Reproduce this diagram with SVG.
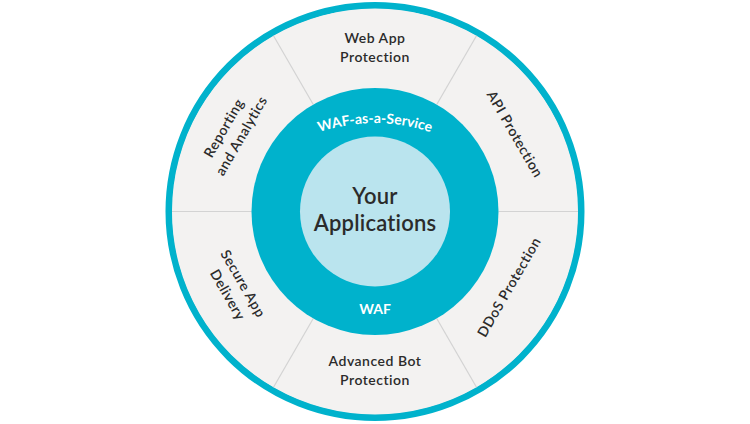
<svg xmlns="http://www.w3.org/2000/svg" width="750" height="424" viewBox="0 0 750 424">
  <style>
    .seg { fill: #f3f2f1; }
    .lbl { font-family: Lato, "Open Sans", "Liberation Sans", sans-serif; font-size: 14px; font-weight: 600; fill: #2b2b2b; text-anchor: middle; letter-spacing: 0.5px; }
    .wht { font-family: Lato, "Open Sans", "Liberation Sans", sans-serif; font-size: 14px; font-weight: 700; fill: #ffffff; text-anchor: middle; }
    .core { font-family: Lato, "Open Sans", "Liberation Sans", sans-serif; font-size: 22px; font-weight: 600; fill: #2b2b2b; text-anchor: middle; letter-spacing: 0.2px; }
    .sep { stroke: #d3d3d3; stroke-width: 1.2; fill: none; }
  </style>
  <defs>
    <path id="arcTop" d="M 296,142 A 175 175 0 0 1 454,142"/>
  </defs>
  <rect width="750" height="424" fill="#ffffff"/>

  <g id="outer-ring">
    <circle cx="375" cy="211.5" r="206" fill="#f3f2f1" stroke="#00b2cc" stroke-width="7"/>
  </g>

  <g id="web-app-protection">
    <path class="seg" d="M 476.5,35.7 A 203 203 0 0 0 273.5,35.7 L 313.25,104.55 A 123.5 123.5 0 0 1 436.75,104.55 Z"/>
    <text class="lbl" x="375" y="43">Web App</text>
    <text class="lbl" x="375" y="62">Protection</text>
  </g>

  <g id="api-protection">
    <path class="seg" d="M 578,211.5 A 203 203 0 0 0 476.5,35.7 L 436.75,104.55 A 123.5 123.5 0 0 1 498.5,211.5 Z"/>
    <text class="lbl" transform="translate(515,134) rotate(60)" x="0" y="5">API Protection</text>
  </g>

  <g id="ddos-protection">
    <path class="seg" d="M 476.5,387.3 A 203 203 0 0 0 578,211.5 L 498.5,211.5 A 123.5 123.5 0 0 1 436.75,318.45 Z"/>
    <text class="lbl" transform="translate(509,287) rotate(-60)" x="0" y="5">DDoS Protection</text>
  </g>

  <g id="advanced-bot-protection">
    <path class="seg" d="M 273.5,387.3 A 203 203 0 0 0 476.5,387.3 L 436.75,318.45 A 123.5 123.5 0 0 1 313.25,318.45 Z"/>
    <text class="lbl" x="375" y="366">Advanced Bot</text>
    <text class="lbl" x="375" y="385">Protection</text>
  </g>

  <g id="secure-app-delivery">
    <path class="seg" d="M 172,211.5 A 203 203 0 0 0 273.5,387.3 L 313.25,318.45 A 123.5 123.5 0 0 1 251.5,211.5 Z"/>
    <text class="lbl" transform="translate(236,290) rotate(60)">
      <tspan x="0" y="-4.5">Secure App</tspan>
      <tspan x="0" y="14.5">Delivery</tspan>
    </text>
  </g>

  <g id="reporting-and-analytics">
    <path class="seg" d="M 273.5,35.7 A 203 203 0 0 0 172,211.5 L 251.5,211.5 A 123.5 123.5 0 0 1 313.25,104.55 Z"/>
    <text class="lbl" transform="translate(233,131) rotate(-60)">
      <tspan x="0" y="-4.5">Reporting</tspan>
      <tspan x="0" y="14.5">and Analytics</tspan>
    </text>
  </g>

  <g id="connectors">
    <line class="sep" x1="498.5" y1="211.5" x2="578" y2="211.5"/>
    <line class="sep" x1="251.5" y1="211.5" x2="172" y2="211.5"/>
    <line class="sep" x1="436.75" y1="104.55" x2="476.5" y2="35.7"/>
    <line class="sep" x1="313.25" y1="104.55" x2="273.5" y2="35.7"/>
    <line class="sep" x1="313.25" y1="318.45" x2="273.5" y2="387.3"/>
    <line class="sep" x1="436.75" y1="318.45" x2="476.5" y2="387.3"/>
  </g>

  <g id="waf-ring">
    <circle cx="375" cy="211.5" r="123.5" fill="#00b2cc"/>
    <text class="wht"><textPath href="#arcTop" startOffset="50%">WAF-as-a-Service</textPath></text>
    <text class="wht" x="375" y="314">WAF</text>
  </g>

  <g id="your-applications">
    <circle cx="375" cy="211.5" r="75" fill="#bae4ee"/>
    <text class="core" x="375" y="204">Your</text>
    <text class="core" x="375" y="231">Applications</text>
  </g>
</svg>
